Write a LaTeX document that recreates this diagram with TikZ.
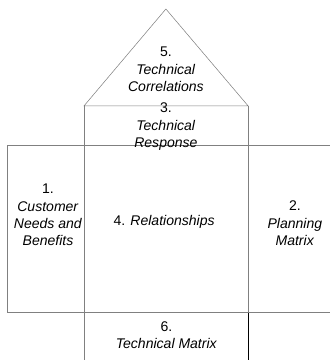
\documentclass[tikz,border=0pt]{standalone}
\usepackage{fontspec}
\setmainfont{Liberation Sans}
\tikzset{
  wall/.style={draw=black!50, line width=0.5pt},
  label/.style={align=center, inner sep=0pt, font=\fontsize{13.3}{16.5}\selectfont}
}
\begin{document}
\begin{tikzpicture}
            \useasboundingbox (0, 0) rectangle (11, 12);

            \draw[wall] (2.8, 8.47) -- (5.53, 11.7) -- (8.27, 8.47) -- cycle;
            \draw[wall] (2.8, 8.47) -- (2.8, 0);
            \draw[wall] (8.27, 8.47) -- (8.27, 1.6);
            \draw[line width=0.6pt] (8.27, 1.6) -- (8.27, 0);
            \draw[wall] (11, 7.17) -- (0.23, 7.17) -- (0.23, 1.6) -- (11, 1.6);

            \node[label] (corr) at (5.53, 9.68) {5.\\ \textit{Technical}\\ \textit{Correlations}};
            \node[label] (resp) at (5.53, 7.77) {3.\\ \textit{Technical}\\ \textit{Response}};
            \node[label] (needs) at (1.6, 4.83) {1.\\ \textit{Customer}\\ \textit{Needs and}\\ \textit{Benefits}};
            \node[label] (rel) at (5.47, 4.6) {4. \textit{Relationships}};
            \node[label] (plan) at (9.83, 4.55) {2.\\ \textit{Planning}\\ \textit{Matrix}};
            \node[label] (tech) at (5.55, 0.82) {6.\\ \textit{Technical Matrix}};
        \end{tikzpicture}
\end{document}
